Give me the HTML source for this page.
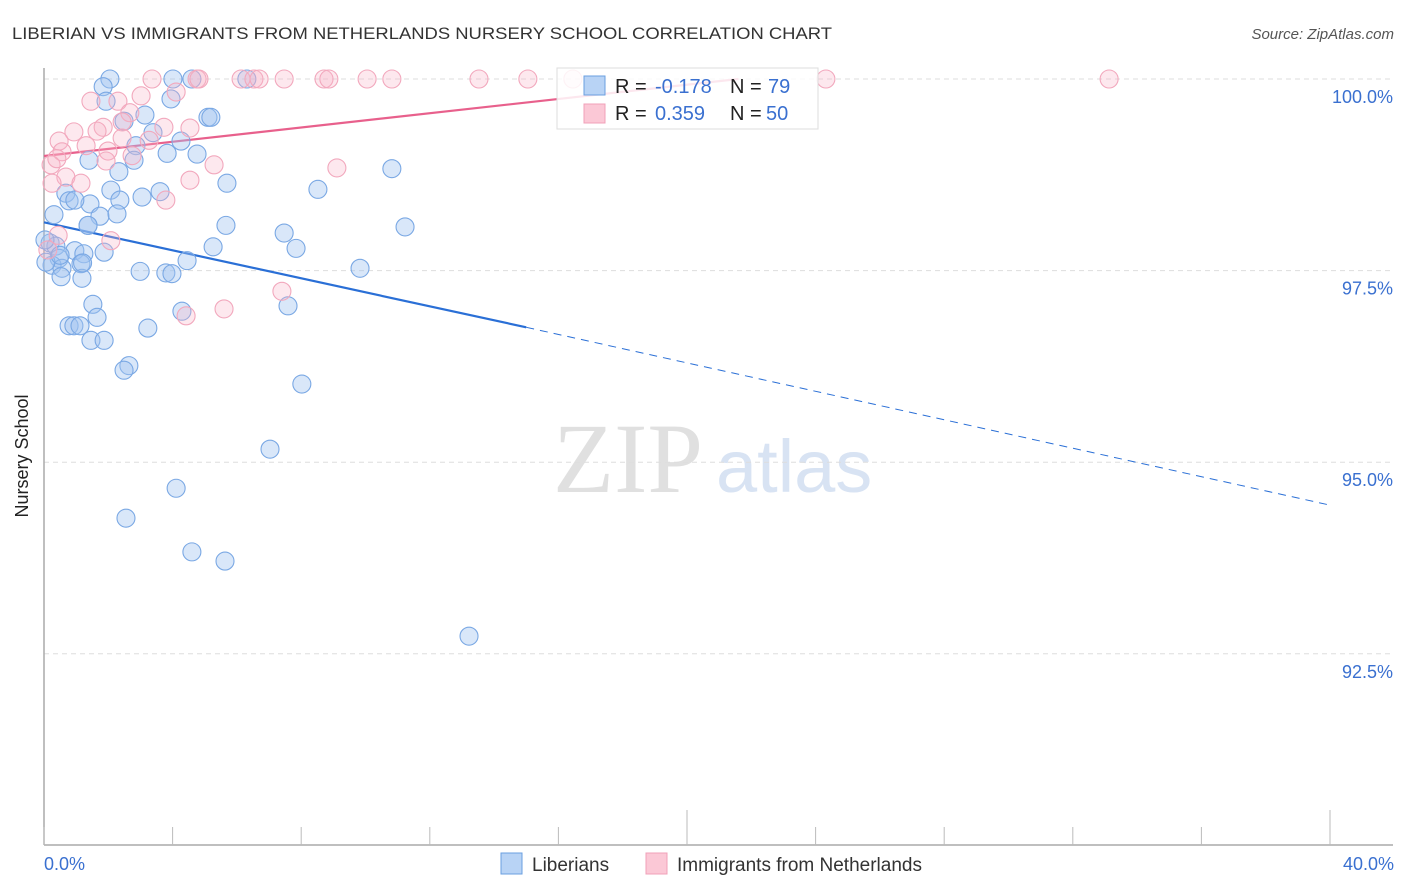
<!DOCTYPE html>
<html><head><meta charset="utf-8"><style>
body{margin:0;background:#fff;font-family:"Liberation Sans",sans-serif;}
svg{display:block}
</style></head><body>
<svg id="chart" width="1406" height="892" xmlns="http://www.w3.org/2000/svg">
<text x="12" y="39" font-size="17" fill="#333" textLength="820" lengthAdjust="spacingAndGlyphs">LIBERIAN VS IMMIGRANTS FROM NETHERLANDS NURSERY SCHOOL CORRELATION CHART</text>
<text x="1394" y="39" font-size="15" fill="#555" font-style="italic" text-anchor="end">Source: ZipAtlas.com</text>
<g>
<text x="553" y="492" font-size="100" fill="#e0e0e0" font-family="Liberation Serif,serif">ZIP</text>
<text x="716" y="492" font-size="74" fill="#d8e3f3">atlas</text>
</g>
<g id="grid"></g>
<g id="axes"></g>
<g id="lines"></g>
<g id="points"></g>
<text x="28" y="456" font-size="18" fill="#222" transform="rotate(-90 28 456)" text-anchor="middle">Nursery School</text>
<g>
<rect x="557" y="68" width="261" height="61" fill="#fff" fill-opacity="0.85" stroke="#ddd"/>
<rect x="584" y="76" width="21" height="19" fill="#b8d3f5" stroke="#6a9fe0"/>
<rect x="584" y="104" width="21" height="19" fill="#fbc8d6" stroke="#f0a0b8"/>
<text y="93" font-size="20"><tspan x="615" fill="#222">R =</tspan><tspan x="655" fill="#3a70d0">-0.178</tspan><tspan x="730" fill="#222">N =</tspan><tspan x="768" fill="#3a70d0">79</tspan></text>
<text y="120" font-size="20"><tspan x="615" fill="#222">R =</tspan><tspan x="655" fill="#3a70d0">0.359</tspan><tspan x="730" fill="#222">N =</tspan><tspan x="766" fill="#3a70d0">50</tspan></text>
</g>
<g>
<rect x="501" y="853" width="21" height="21" fill="#b8d3f5" stroke="#6a9fe0"/>
<text x="532" y="871" font-size="19" fill="#333">Liberians</text>
<rect x="646" y="853" width="21" height="21" fill="#fbc8d6" stroke="#f0a0b8"/>
<text x="677" y="871" font-size="19" fill="#333">Immigrants from Netherlands</text>
</g>
</svg>
<script>
const blueX=[2.05,4.60,4.01,6.31,1.84,3.95,1.93,5.10,5.19,2.49,3.14,3.39,4.26,2.86,3.83,4.76,1.40,2.80,2.33,5.69,8.52,10.82,2.08,3.05,3.61,0.68,0.78,1.43,2.36,0.96,0.31,1.74,2.27,1.37,5.66,11.23,7.47,7.84,5.26,0.19,0.37,0.47,0.96,1.24,1.87,1.15,0.25,0.56,0.53,1.18,2.99,3.79,3.98,4.45,9.83,1.52,4.29,7.59,1.65,0.78,0.93,1.12,3.23,1.46,1.87,2.64,2.49,8.02,7.03,4.11,2.55,4.60,5.63,13.22,0.03,0.06,1.37,0.50,1.20];
const blueY=[100,100,100,100,99.90,99.74,99.71,99.50,99.50,99.45,99.53,99.30,99.19,99.13,99.03,99.02,98.94,98.94,98.79,98.64,98.56,98.83,98.55,98.46,98.53,98.51,98.41,98.37,98.42,98.42,98.23,98.21,98.24,98.09,98.09,98.07,97.99,97.79,97.81,97.86,97.82,97.66,97.76,97.72,97.74,97.59,97.57,97.53,97.42,97.40,97.49,97.47,97.46,97.63,97.53,97.06,96.97,97.04,96.89,96.78,96.78,96.78,96.75,96.59,96.59,96.26,96.20,96.02,95.17,94.66,94.27,93.83,93.71,92.73,97.90,97.61,98.09,97.70,97.60];
const pinkX=[3.36,4.76,4.82,6.13,6.53,6.69,7.47,8.71,8.86,10.05,10.82,13.53,15.05,16.45,24.32,33.13,1.46,2.30,4.11,3.02,2.67,2.43,1.84,1.65,3.73,0.93,4.54,0.47,1.31,2.43,3.27,0.56,1.99,2.74,0.22,0.40,1.93,5.29,9.11,0.68,1.15,4.54,0.25,3.79,0.44,2.08,7.40,5.60,4.42,0.12];
const pinkY=[100,100,100,100,100,100,100,100,100,100,100,100,100,100,100,100,99.71,99.71,99.83,99.78,99.56,99.44,99.37,99.32,99.37,99.31,99.36,99.19,99.13,99.23,99.20,99.05,99.06,99.00,98.88,98.96,98.93,98.88,98.84,98.72,98.64,98.68,98.64,98.42,97.96,97.89,97.23,97.00,96.91,97.77];
const yTicks=[100,97.5,95,92.5];
const yTickLabels=["100.0%","97.5%","95.0%","92.5%"];
const xTicks=[0,4,8,12,16,20,24,28,32,36,40];
const blueTrend=[[0,98.13],[15,96.76],[40,94.44]];
const pinkTrend=[[0,98.995],[21.6,100]];

const X0=44,X1=1330,Y100=79,PXPER=76.64;
const sx=v=>X0+(v/40)*(X1-X0);
const sy=v=>Y100+(100-v)*PXPER;
const NS="http://www.w3.org/2000/svg";
function mk(tag,attrs,parent){const e=document.createElementNS(NS,tag);for(const k in attrs)e.setAttribute(k,attrs[k]);parent.appendChild(e);return e;}
const grid=document.getElementById('grid'),axes=document.getElementById('axes'),lines=document.getElementById('lines'),pts=document.getElementById('points');
yTicks.forEach((t,i)=>{
  const l=mk('line',{x1:X0,x2:1393,y1:sy(t),y2:sy(t),stroke:'#ddd','stroke-dasharray':'5,4'},grid);
  
  
  const tx=mk('text',{x:1393,y:sy(t)+24,'font-size':18,fill:'#3a70d0','text-anchor':'end'},axes);
  tx.textContent=yTickLabels[i];
  
  
});
const ax=mk('line',{x1:X0,x2:1393,y1:845,y2:845,stroke:'#aaa','stroke-width':1.5},axes);


const ay=mk('line',{x1:X0,x2:X0,y1:68,y2:845,stroke:'#aaa','stroke-width':1.5},axes);


xTicks.forEach((t,i)=>{
  const big=(i===5||i===10);
  const l=mk('line',{x1:sx(t),x2:sx(t),y1:big?810:827,y2:845,stroke:'#bbb'},axes);
  
  
});
const xl0=mk('text',{x:44,y:870,'font-size':18,fill:'#3a70d0'},axes);xl0.textContent='0.0%';


const xl1=mk('text',{x:1394,y:870,'font-size':18,fill:'#3a70d0','text-anchor':'end'},axes);xl1.textContent='40.0%';



blueX.forEach((x,i)=>{const c=mk('circle',{cx:sx(x),cy:sy(blueY[i]),r:9,fill:'rgba(160,195,240,0.4)',stroke:'#7aa8e4','stroke-width':1.1},pts);

});
pinkX.forEach((x,i)=>{const c=mk('circle',{cx:sx(x),cy:sy(pinkY[i]),r:9,fill:'rgba(248,180,200,0.3)',stroke:'#f2a8bd','stroke-width':1.1},pts);

});

const b1=mk('line',{x1:sx(blueTrend[0][0]),y1:sy(blueTrend[0][1]),x2:sx(blueTrend[1][0]),y2:sy(blueTrend[1][1]),stroke:'#2a6fd6','stroke-width':2.2},lines);


const b2=mk('line',{x1:sx(blueTrend[1][0]),y1:sy(blueTrend[1][1]),x2:sx(blueTrend[2][0]),y2:sy(blueTrend[2][1]),stroke:'#2a6fd6','stroke-width':1,'stroke-dasharray':'8,6'},lines);


const p1=mk('line',{x1:sx(pinkTrend[0][0]),y1:sy(pinkTrend[0][1]),x2:sx(pinkTrend[1][0]),y2:sy(pinkTrend[1][1]),stroke:'#e8608c','stroke-width':2.2},lines);


</script>
</body></html>
